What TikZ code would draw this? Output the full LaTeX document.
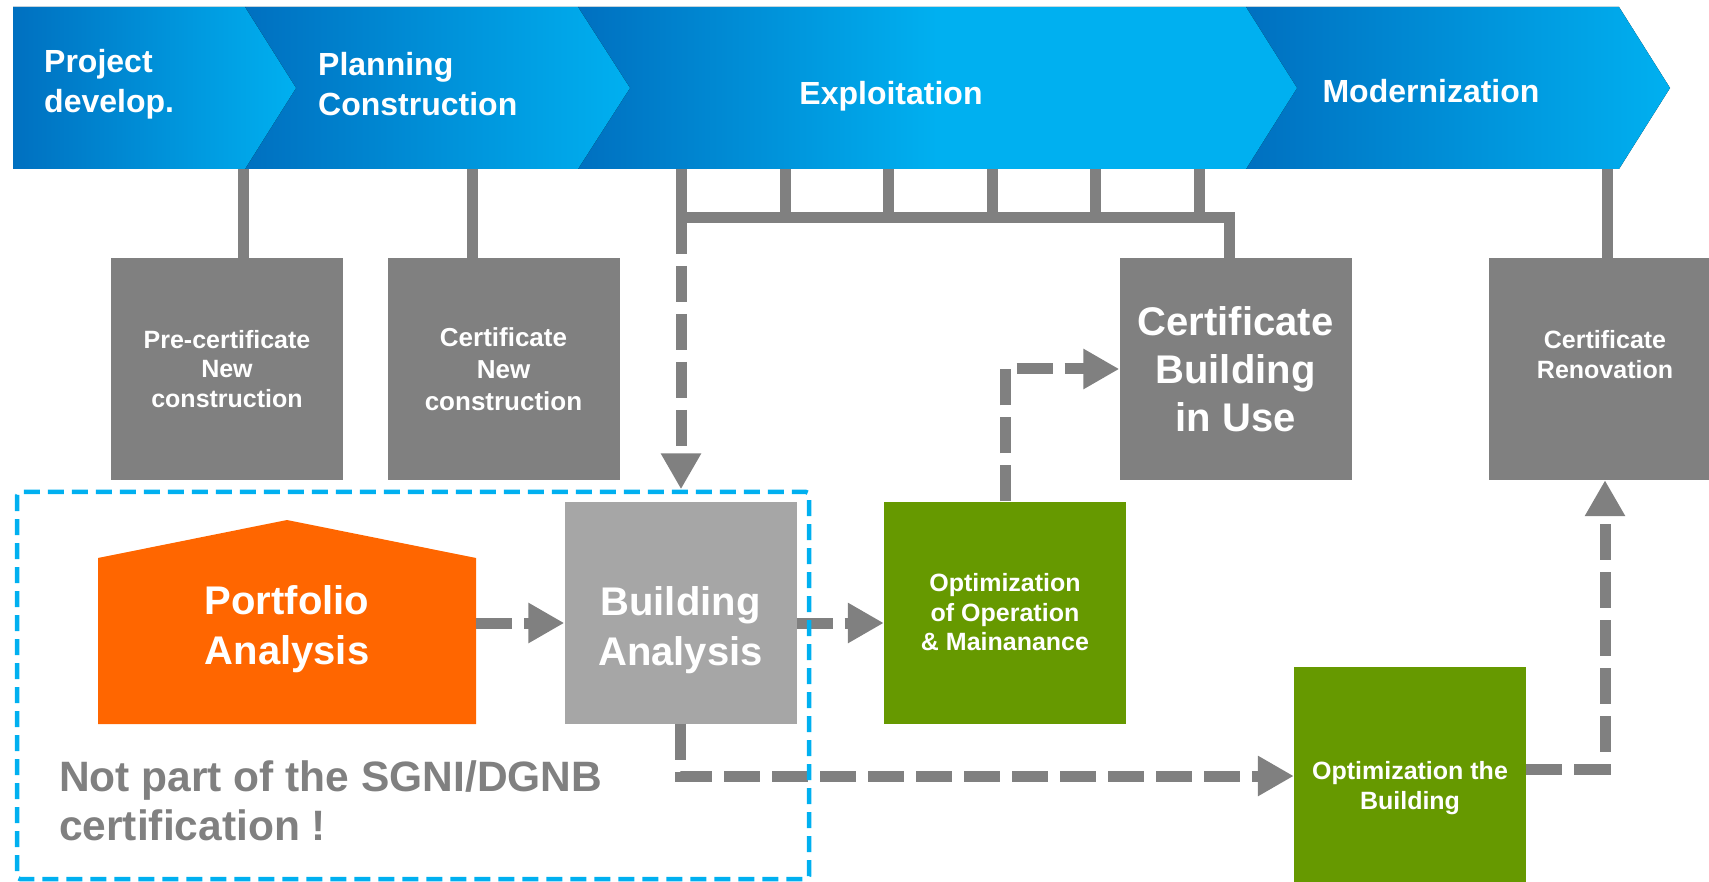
\documentclass[tikz,border=0pt]{standalone}
\usepackage{fontspec}
\setmainfont{Liberation Sans}
\usetikzlibrary{arrows.meta}

\definecolor{phasedark}{RGB}{0,112,192}
\definecolor{phaselight}{RGB}{0,176,240}
\definecolor{certgrey}{RGB}{128,128,128}
\definecolor{analysisgrey}{RGB}{166,166,166}
\definecolor{optgreen}{RGB}{102,153,0}
\definecolor{portorange}{RGB}{255,102,0}

\tikzset{
    phase/.style={left color=phasedark, right color=phaselight},
    phase label/.style={text=white, inner sep=0pt, align=left, font=\fontsize{32}{40}\selectfont\bfseries},
    certbox/.style={minimum width=232pt, minimum height=222pt, inner sep=0pt, align=center, text=white},
    txtsmall/.style={font=\fontsize{25}{29.5}\selectfont\bfseries},
    txtbig/.style={font=\fontsize{40}{48}\selectfont\bfseries},
    boxlabel/.style={text=white, align=center, inner sep=0pt, font=\fontsize{40}{50}\selectfont\bfseries},
    link/.style={draw=certgrey, line width=11pt},
    flow/.style={link, dash pattern=on 36pt off 12pt, -{Triangle[length=36pt,width=38pt]}},
    frame/.style={draw=phaselight, line width=4.5pt, dash pattern=on 16pt off 8pt, rounded corners=3pt},
}

\begin{document}
\begin{tikzpicture}[x=1pt, y=-1pt]
    \newcommand\bandTop{7}
    \newcommand\bandMid{88}
    \newcommand\bandBot{169}
    \newcommand\rowCert{369}
    \newcommand\rowAna{612.5}

    \useasboundingbox (0,0) rectangle (1709,882);

    % phase band, drawn right to left so each tip covers the next notch
    \fill[phase] (1246,\bandTop) -- (1619,\bandTop) -- (1670,\bandMid) -- (1619,\bandBot) -- (1246,\bandBot) -- cycle;
    \fill[left color=phasedark, right color=phaselight, middle color=phaselight] (578,\bandTop) -- (1246,\bandTop) -- (1297,\bandMid) -- (1246,\bandBot) -- (578,\bandBot) -- cycle;
    \fill[phase] (245,\bandTop) -- (578,\bandTop) -- (630,\bandMid) -- (578,\bandBot) -- (245,\bandBot) -- cycle;
    \fill[phase] (13,\bandTop) -- (245,\bandTop) -- (296,\bandMid) -- (245,\bandBot) -- (13,\bandBot) -- cycle;

    \node[phase label, anchor=west] (projdev) at (44,84) {Project\\develop.};
    \node[phase label, anchor=west] (planning) at (318,84) {Planning\\Construction};
    \node[phase label] (exploit) at (891,96) {Exploitation};
    \node[phase label] (modern) at (1431,91) {Modernization};

    % certificates
    \node[certbox, fill=certgrey, txtsmall] (precert) at (227,\rowCert) {Pre-certificate\\New\\construction};
    \node[certbox, fill=certgrey, font=\fontsize{26}{32}\selectfont\bfseries] (certnew) at (503.5,\rowCert) {Certificate\\New\\construction};
    \node[certbox, fill=certgrey, txtbig] (certuse) at (1235.5,\rowCert) {Certificate\\Building\\in Use};
    \node[certbox, fill=certgrey, txtsmall] (certreno) at (1605,\rowCert) {Certificate\\Renovation\\\mbox{}};

    % analysis and optimization
    \fill[portorange] (98,558) -- (287,520) -- (476,558) -- (476,724) -- (98,724) -- cycle;
    \node[boxlabel, minimum width=378pt] (portfolio) at (287,629) {Portfolio\\Analysis};
    \node[certbox, fill=analysisgrey] (build) at (680.5,\rowAna) {};
    \node[boxlabel] (buildtext) at (680.5,630) {Building\\Analysis};
    \node[certbox, fill=optgreen, minimum width=242pt, txtsmall] (optop) at (1005,\rowAna) {Optimization\\of Operation\\\& Mainanance};
    \node[certbox, fill=optgreen, minimum height=242pt, txtsmall] (optbuild) at (1410,788) {Optimization the\\Building};

    % hangers from the phase band
    \coordinate (tickA) at (243,\bandBot);
    \coordinate (tickB) at (472,\bandBot);
    \coordinate (tickR) at (1607,\bandBot);
    \coordinate (barL) at (681,218);
    \coordinate (barR) at (1229,218);
    \draw[link] (tickA) -- (tickA |- precert.north);
    \draw[link] (tickB) -- (tickB |- certnew.north);
    \draw[link] (tickR) -- (tickR |- certreno.north);
    \foreach \x in {681,785,888,992,1095,1199}
        \draw[link] (\x,\bandBot) -- (\x,218);
    \draw[link] (barL) -- (barR) -- (barR |- certuse.north);

    % flow
    \coordinate (midrow) at (0,623);
    \coordinate (lowrow) at (0,776);
    \draw[flow, shorten >=12pt] (barL) -- (barL |- build.north);
    \draw[flow] (portfolio.east |- midrow) -- (build.west |- midrow);
    \draw[flow] (build.east |- midrow) -- (optop.west |- midrow);
    \draw[flow] (optop.north) |- (certuse.west);
    \draw[flow] (build.south) |- (optbuild.west |- lowrow);
    \draw[flow] ([yshift=19pt]optbuild.east) -| (certreno.south);

    \draw[frame] (17,492) rectangle (809,879);
    \node[anchor=west, text=certgrey, align=left, inner sep=0pt, font=\fontsize{42.5}{49}\selectfont\bfseries] (notpart) at (59,801) {Not part of the SGNI/DGNB\\certification !};
\end{tikzpicture}
\end{document}
